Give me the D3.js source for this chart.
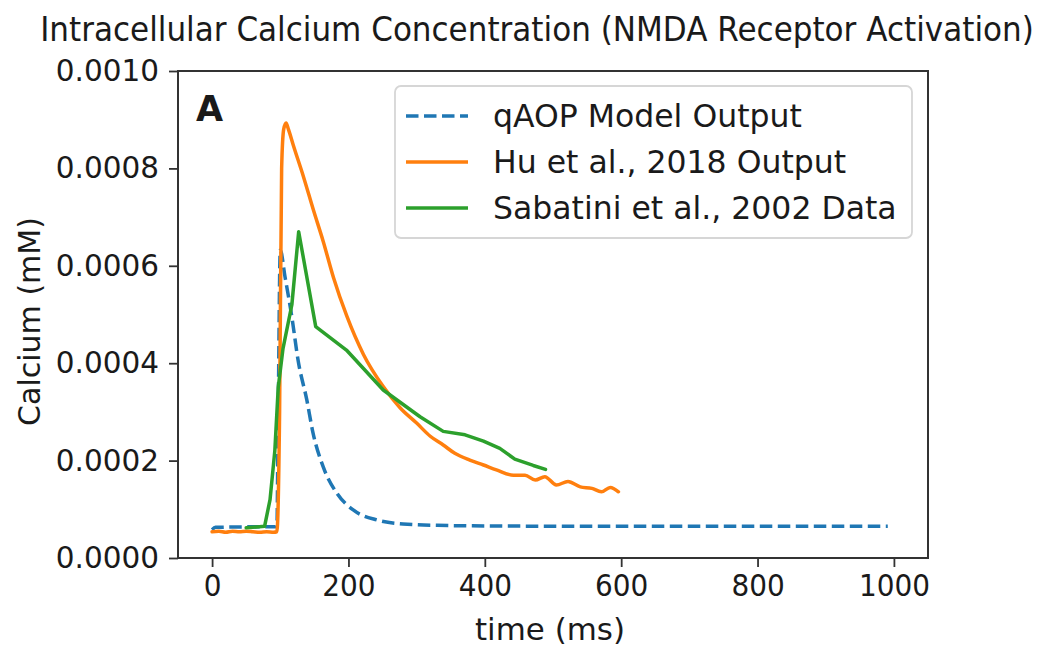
<!DOCTYPE html>
<html>
<head>
<meta charset="utf-8">
<script src="https://cdn.jsdelivr.net/npm/d3@7"></script>
<style>
  html, body { margin: 0; padding: 0; background: #fff; }
  svg { display: block; }
  text { font-family: "DejaVu Sans", sans-serif; fill: #1a1a1a; }
</style>
</head>
<body>
<svg id="chart" width="1045" height="655"></svg>
<script>
// ---- Data ----
const qaopTime = [0, 5, 60, 95, 97, 100, 107, 117, 126, 139, 148, 163, 183, 207, 242, 280, 330, 422, 600, 800, 991];
const qaopCa   = [0.000058, 0.000063, 0.000064, 0.000064, 0.00030, 0.000632, 0.000577, 0.000495, 0.000407, 0.000324, 0.000257, 0.000187, 0.000133, 0.0000986, 0.000078, 0.0000698, 0.000067, 0.0000657, 0.000065, 0.000065, 0.000065];

const huTime = [0, 10, 20, 30, 40, 50, 60, 70, 80, 90, 95, 99, 102, 105, 108.5, 112, 119, 134, 148.5, 163, 178, 197.5, 222, 251, 276, 300, 320, 339, 356, 378, 398, 417, 442, 459, 474, 488, 505, 522, 540, 557, 571, 584, 596];
const huCa   = [0.000054, 0.000055, 0.000053, 0.000055, 0.000054, 0.000055, 0.000054, 0.000053, 0.000054, 0.000053, 0.000054, 0.00030, 0.00080, 0.00088, 0.000893, 0.00088, 0.000848, 0.000783, 0.000715, 0.000650, 0.000576, 0.000497, 0.000418, 0.000352, 0.000308, 0.000277, 0.000250, 0.000232, 0.000215, 0.000201, 0.000191, 0.000181, 0.000170, 0.000170, 0.000160, 0.000167, 0.000150, 0.000157, 0.000146, 0.000143, 0.000136, 0.000145, 0.000136];

const sabTime = [50, 77, 85, 92, 97, 104, 117, 127, 152, 197, 251, 305, 339, 371, 398, 422, 444, 471, 489];
const sabCa   = [0.000062, 0.000065, 0.00012, 0.00022, 0.00035, 0.00043, 0.00052, 0.00067, 0.000475, 0.000427, 0.000345, 0.00029, 0.00026, 0.000253, 0.00024, 0.000225, 0.000203, 0.00019, 0.000182];

const seriesNames = ["qAOP Model Output", "Hu et al., 2018 Output", "Sabatini et al., 2002 Data"];
const xTicks = [0, 200, 400, 600, 800, 1000];
const yTicks = [0, 0.0002, 0.0004, 0.0006, 0.0008, 0.0010];

// ---- Layout ----
const svg = d3.select("#chart");
const mLeft = 178, mRight = 928, mTop = 71, mBottom = 558;

const x = d3.scaleLinear().domain([-50, 1050]).range([mLeft, mRight]);
const y = d3.scaleLinear().domain([0, 0.0010]).range([mBottom, mTop]);

const colors = ["#1f77b4", "#ff7f0e", "#2ca02c"];
const lw = 3.5;

// Title: narrow, tall lettering as in the reference (fit width, stretch height)
const titleW = 994, titleH = 33;
const title = svg.append("text")
  .attr("text-anchor", "middle")
  .attr("font-size", titleH)
  .text("Intracellular Calcium Concentration (NMDA Receptor Activation)");
const natW = title.node().getComputedTextLength();
const fs = titleH * titleW / natW;
title.attr("font-size", fs)
  .attr("transform", `translate(537,41) scale(1,${titleH / fs})`);

// Lines
const curves = [d3.curveMonotoneX, d3.curveMonotoneX, d3.curveLinear];
const datasets = [
  d3.zip(qaopTime, qaopCa),
  d3.zip(huTime, huCa),
  d3.zip(sabTime, sabCa)
];
const g = svg.append("g");
datasets.forEach((ds, i) => {
  const line = d3.line().x(d => x(d[0])).y(d => y(d[1])).curve(curves[i]);
  const p = g.append("path")
    .attr("d", line(ds))
    .attr("fill", "none")
    .attr("stroke", colors[i])
    .attr("stroke-width", lw)
    .attr("stroke-linejoin", "round")
    .attr("stroke-linecap", i === 0 ? "butt" : "round");
  if (i === 0) p.attr("stroke-dasharray", "12.5,5.5");
});

// Axes
const xAxis = d3.axisBottom(x).tickValues(xTicks).tickSize(9).tickPadding(7).tickFormat(d3.format("d"));
const yAxis = d3.axisLeft(y).tickValues(yTicks).tickSize(9).tickPadding(10).tickFormat(d3.format(".4f"));

const gx = svg.append("g").attr("transform", `translate(0,${mBottom})`).call(xAxis);
const gy = svg.append("g").attr("transform", `translate(${mLeft},0)`).call(yAxis);
[gx, gy].forEach(a => {
  a.select(".domain").remove();
  a.selectAll(".tick line").attr("stroke", "#333").attr("stroke-width", 1.8);
  a.selectAll(".tick text").attr("fill", "#1a1a1a").style("font-family", "DejaVu Sans, sans-serif");
});
gy.selectAll(".tick text").attr("font-size", 29.5);
gx.selectAll(".tick text").attr("font-size", 31)
  .each(function () {
    const w = this.getComputedTextLength();
    d3.select(this).attr("textLength", w * 0.9).attr("lengthAdjust", "spacingAndGlyphs");
  });

// Frame
svg.append("rect")
  .attr("x", mLeft).attr("y", mTop)
  .attr("width", mRight - mLeft).attr("height", mBottom - mTop)
  .attr("fill", "none").attr("stroke", "#333").attr("stroke-width", 2);

// Axis labels
svg.append("text")
  .attr("x", 550).attr("y", 640)
  .attr("text-anchor", "middle").attr("font-size", 31)
  .attr("textLength", 150).attr("lengthAdjust", "spacingAndGlyphs")
  .text("time (ms)");
svg.append("text")
  .attr("transform", `translate(40,${(mTop + mBottom) / 2 + 7}) rotate(-90)`)
  .attr("text-anchor", "middle").attr("font-size", 30)
  .text("Calcium (mM)");

// Panel letter
svg.append("text")
  .attr("x", 196).attr("y", 121)
  .attr("font-size", 35).attr("font-weight", "bold")
  .attr("fill", "#000")
  .text("A");

// Legend
const lg = svg.append("g");
lg.append("rect")
  .attr("x", 395).attr("y", 86).attr("width", 517).attr("height", 152)
  .attr("rx", 6).attr("fill", "#fff").attr("fill-opacity", 0.8)
  .attr("stroke", "#d6d6d6").attr("stroke-width", 1.8);
const rowY = [116, 162, 208];
seriesNames.forEach((name, i) => {
  const l = lg.append("line")
    .attr("x1", 406).attr("x2", 468)
    .attr("y1", rowY[i]).attr("y2", rowY[i])
    .attr("stroke", colors[i]).attr("stroke-width", lw);
  if (i === 0) l.attr("stroke-dasharray", "12.5,5.5");
  lg.append("text")
    .attr("x", 493).attr("y", rowY[i] + 11)
    .attr("font-size", 31.5)
    .text(name);
});
</script>
</body>
</html>
